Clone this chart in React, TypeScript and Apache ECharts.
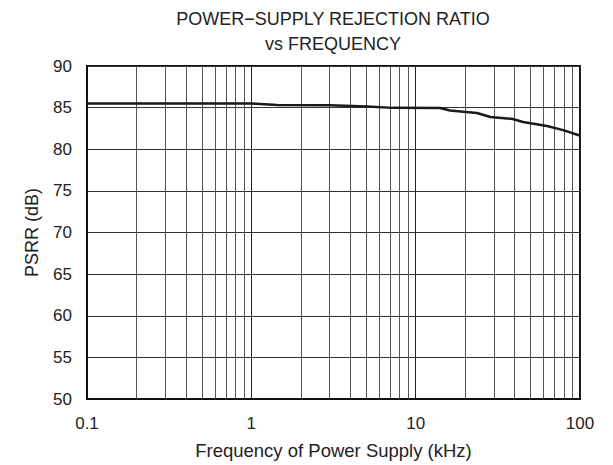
import React, { useEffect, useRef } from "react";
import * as echarts from "echarts";

const freqKHz = [0.1, 0.5, 1.0, 1.06, 1.44, 3.0, 5.06, 7.3, 14.1, 16.2, 19.5, 23.6, 28.5, 39, 45, 63, 79, 91, 100];
const psrrDb = [85.5, 85.5, 85.5, 85.48, 85.32, 85.3, 85.13, 84.97, 84.96, 84.65, 84.5, 84.35, 83.87, 83.63, 83.27, 82.8, 82.3, 81.9, 81.65];
const minorFreqs = [0.2, 0.3, 0.4, 0.5, 0.6, 0.7, 0.8, 0.9, 2, 3, 4, 5, 6, 7, 8, 9, 20, 30, 40, 50, 60, 70, 80, 90];
const xTickLabels = ["0.1", "1", "10", "100"];
const titleLines = ["POWER\u2212SUPPLY REJECTION RATIO", "vs FREQUENCY"];

export default function App() {
  const ref = useRef<HTMLDivElement>(null);
  useEffect(() => {
    if (!ref.current) return;
    const chart = echarts.init(ref.current, null, { renderer: "svg" });
    const font = "'Liberation Sans', Arial, sans-serif";
    chart.setOption({
      animation: false,
      backgroundColor: "#fff",
      title: {
        text: titleLines.join("\n"),
        left: 333,
        textAlign: "center",
        top: 6,
        padding: 0,
        textStyle: { fontFamily: font, fontSize: 18, fontWeight: "normal", color: "#222", lineHeight: 25 },
      },
      grid: {
        left: 87,
        right: 33,
        top: 66,
        bottom: 62,
        show: true,
        borderColor: "#111",
        borderWidth: 2,
        backgroundColor: "transparent",
      },
      xAxis: {
        type: "log",
        logBase: 10,
        min: 0.1,
        max: 100,
        name: "Frequency of Power Supply (kHz)",
        nameLocation: "middle",
        nameGap: 42,
        nameTextStyle: { fontFamily: font, fontSize: 18.5, color: "#222" },
        axisLine: { show: true, lineStyle: { color: "#111", width: 2 } },
        axisTick: { show: false },
        axisLabel: {
          fontFamily: font,
          fontSize: 17,
          color: "#222",
          margin: 16,
          formatter: (v: number) => {
            const idx = Math.round(Math.log10(v) + 1);
            return xTickLabels[idx] ?? String(v);
          },
        },
        splitLine: { show: true, lineStyle: { color: "#222", width: 1 } },
      },
      yAxis: {
        type: "value",
        min: 50,
        max: 90,
        interval: 5,
        name: "PSRR (dB)",
        nameLocation: "middle",
        nameGap: 46,
        nameTextStyle: { fontFamily: font, fontSize: 18, color: "#222" },
        axisLine: { show: true, lineStyle: { color: "#111", width: 2 } },
        axisTick: { show: false },
        axisLabel: { fontFamily: font, fontSize: 17, color: "#222", margin: 15 },
        splitLine: { show: true, lineStyle: { color: "#333", width: 1 } },
      },
      series: [
        {
          type: "line",
          data: freqKHz.map((f, i) => [f, psrrDb[i]]),
          showSymbol: false,
          symbol: "none",
          smooth: false,
          lineStyle: { color: "#1a1a1a", width: 2.5 },
          z: 5,
          markLine: {
            silent: true,
            symbol: ["none", "none"],
            label: { show: false },
            lineStyle: { color: "#555", width: 1, type: "solid" },
            data: minorFreqs.map((f) => ({ xAxis: f })),
            z: 1,
          },
        },
      ],
    });
    return () => chart.dispose();
  }, []);
  return <div ref={ref} style={{ width: 613, height: 465, position: "absolute", left: 0, top: 0 }} />;
}
